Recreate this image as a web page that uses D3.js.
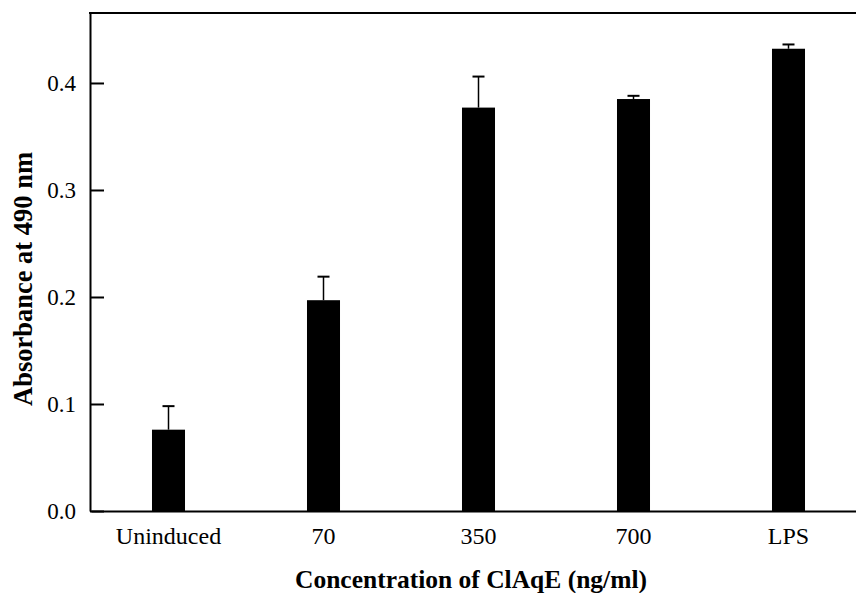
<!DOCTYPE html>
<html>
<head>
<meta charset="utf-8">
<script src="https://cdn.jsdelivr.net/npm/d3@7"></script>
<style>
  body { margin: 0; background: #fff; }
  svg { display: block; font-family: "Liberation Serif", "Times New Roman", serif; }
</style>
</head>
<body>
<div id="chart"></div>
<script>
// data
const categories = ['Uninduced', '70', '350', '700', 'LPS'];
const absorbance = [0.076, 0.197, 0.377, 0.385, 0.432];
const errorTop = [0.098, 0.219, 0.406, 0.388, 0.436];
const yTicks = [0.0, 0.1, 0.2, 0.3, 0.4];

const width = 856;
const height = 593;
const margin = { top: 13, right: -10, bottom: 82, left: 91 };

const svg = d3.select('#chart')
    .append('svg')
    .attr('width', width)
    .attr('height', height);

const x = d3.scaleBand()
    .domain(categories)
    .range([margin.left, width - margin.right])
    .paddingInner(0.787)
    .paddingOuter(0.3935);

const y = d3.scaleLinear()
    .domain([0, 0.4654])
    .range([height - margin.bottom, margin.top]);

// bars
svg.selectAll('.bar')
    .data(categories)
    .enter()
    .append('rect')
    .attr('class', 'bar')
    .attr('x', d => x(d))
    .attr('y', (d, i) => y(absorbance[i]))
    .attr('width', x.bandwidth())
    .attr('height', (d, i) => y(0) - y(absorbance[i]))
    .attr('fill', '#000');

// error bars (upper only)
const err = svg.append('g')
    .attr('stroke', '#000')
    .attr('stroke-width', 1.5);

err.selectAll('.stem')
    .data(categories)
    .enter()
    .append('line')
    .attr('x1', d => x(d) + x.bandwidth() / 2)
    .attr('x2', d => x(d) + x.bandwidth() / 2)
    .attr('y1', (d, i) => y(absorbance[i]))
    .attr('y2', (d, i) => y(errorTop[i]));

err.selectAll('.cap')
    .data(categories)
    .enter()
    .append('line')
    .attr('x1', d => x(d) + x.bandwidth() / 2 - 6)
    .attr('x2', d => x(d) + x.bandwidth() / 2 + 6)
    .attr('y1', (d, i) => y(errorTop[i]))
    .attr('y2', (d, i) => y(errorTop[i]))
    .attr('stroke-width', 2);

// y axis, ticks pointing inward
const yAxis = svg.append('g')
    .attr('transform', `translate(${margin.left - 1},0)`)
    .call(d3.axisRight(y).tickValues(yTicks).tickFormat(d3.format('.1f')).tickSize(14).tickSizeOuter(0));

yAxis.select('.domain').attr('stroke-width', 2);
yAxis.selectAll('.tick line').attr('stroke-width', 2);
yAxis.selectAll('.tick text')
    .attr('x', -14)
    .attr('text-anchor', 'end')
    .attr('dy', '0.34em')
    .style('font-size', '23px')
    .style('font-family', '"Liberation Serif", serif')
    .attr('fill', '#000');

// x axis (no ticks)
const xAxis = svg.append('g')
    .attr('transform', `translate(0,${height - margin.bottom})`)
    .call(d3.axisBottom(x).tickSize(0).tickSizeOuter(0).tickPadding(16));

xAxis.select('.domain').attr('stroke-width', 2);
xAxis.selectAll('.tick text')
    .style('font-size', '24px')
    .style('font-family', '"Liberation Serif", serif')
    .attr('fill', '#000');

// top frame line
svg.append('line')
    .attr('x1', margin.left - 2)
    .attr('x2', width)
    .attr('y1', margin.top)
    .attr('y2', margin.top)
    .attr('stroke', '#000')
    .attr('stroke-width', 2);

// titles
svg.append('text')
    .attr('x', 471)
    .attr('y', 588)
    .attr('text-anchor', 'middle')
    .style('font-size', '25.5px')
    .style('font-weight', 'bold')
    .text('Concentration of ClAqE (ng/ml)');

svg.append('text')
    .attr('transform', 'translate(32,279) rotate(-90)')
    .attr('text-anchor', 'middle')
    .style('font-size', '26.5px')
    .style('font-weight', 'bold')
    .text('Absorbance at 490 nm');
</script>
</body>
</html>
